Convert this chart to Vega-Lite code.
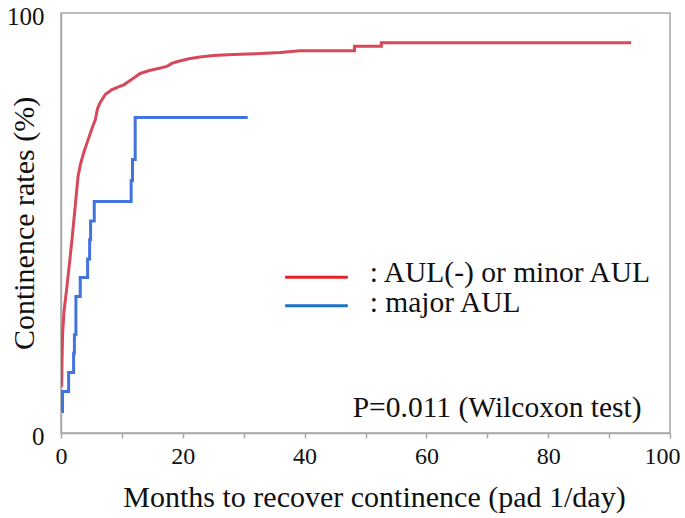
{
  "$schema": "https://vega.github.io/schema/vega-lite/v6.json",
  "width": 609,
  "height": 420,
  "autosize": {"type": "none"},
  "padding": {"left": 61, "top": 13, "right": 15, "bottom": 85},
  "background": "white",
  "config": {
    "font": "Liberation Serif",
    "view": {"stroke": "#a8a8a8", "strokeWidth": 1.5},
    "axis": {"grid": false, "domainColor": "#a8a8a8", "domainWidth": 1.5, "tickColor": "#a8a8a8", "tickWidth": 1.5, "labelFont": "Liberation Serif", "titleFont": "Liberation Serif", "labelColor": "#111", "titleColor": "#111", "titleFontWeight": "normal"}
  },
  "datasets": {
    "curves": [
      {"i": 1, "m": 0.1, "r": 11},
      {"i": 2, "m": 0.15, "r": 16},
      {"i": 3, "m": 0.27, "r": 23.8},
      {"i": 4, "m": 0.5, "r": 29},
      {"i": 5, "m": 0.98, "r": 34.9},
      {"i": 6, "m": 1.4, "r": 40.5},
      {"i": 7, "m": 1.8, "r": 46},
      {"i": 8, "m": 2.3, "r": 53.5},
      {"i": 9, "m": 2.79, "r": 61},
      {"i": 10, "m": 3.2, "r": 64},
      {"i": 11, "m": 3.7, "r": 66.6},
      {"i": 12, "m": 4.3, "r": 69.2},
      {"i": 13, "m": 4.8, "r": 71.3},
      {"i": 14, "m": 5.2, "r": 73},
      {"i": 15, "m": 5.62, "r": 74.5},
      {"i": 16, "m": 6.0, "r": 77.3},
      {"i": 17, "m": 6.4, "r": 78.6},
      {"i": 18, "m": 7.26, "r": 80.6},
      {"i": 19, "m": 8.3, "r": 81.7},
      {"i": 20, "m": 9.44, "r": 82.4},
      {"i": 21, "m": 10.3, "r": 82.9},
      {"i": 22, "m": 10.8, "r": 83.4},
      {"i": 23, "m": 12.0, "r": 84.6},
      {"i": 24, "m": 13.0, "r": 85.6},
      {"i": 25, "m": 14.5, "r": 86.3},
      {"i": 26, "m": 16.0, "r": 86.8},
      {"i": 27, "m": 17.4, "r": 87.3},
      {"i": 28, "m": 18.2, "r": 88},
      {"i": 29, "m": 19.0, "r": 88.4},
      {"i": 30, "m": 21, "r": 89.1},
      {"i": 31, "m": 22.8, "r": 89.5},
      {"i": 32, "m": 25, "r": 89.9},
      {"i": 33, "m": 28.3, "r": 90.1},
      {"i": 34, "m": 32, "r": 90.3},
      {"i": 35, "m": 36, "r": 90.6},
      {"i": 36, "m": 39.2, "r": 91.0},
      {"i": 37, "m": 48.2, "r": 91.0},
      {"i": 38, "m": 48.2, "r": 92.1},
      {"i": 39, "m": 52.6, "r": 92.1},
      {"i": 40, "m": 52.6, "r": 92.9},
      {"i": 41, "m": 93.6, "r": 92.9}
    ],
    "blue": [
      {"m": 0.15, "r": 5.1},
      {"m": 0.25, "r": 9.9},
      {"m": 1.25, "r": 14.4},
      {"m": 2.07, "r": 19.0},
      {"m": 2.2, "r": 23.4},
      {"m": 2.45, "r": 32.5},
      {"m": 3.16, "r": 37.0},
      {"m": 4.37, "r": 41.4},
      {"m": 4.7, "r": 46.0},
      {"m": 4.86, "r": 50.5},
      {"m": 5.46, "r": 55.1},
      {"m": 11.52, "r": 60.1},
      {"m": 11.74, "r": 65.1},
      {"m": 12.18, "r": 75.1},
      {"m": 30.66, "r": 75.1}
    ],
    "legend": [
      {"label": ": AUL(-) or minor AUL", "x1": 36.8, "x2": 47.1, "ly": 37.1, "tx": 50.7, "ty": 38.2, "c": "#e3232c"},
      {"label": ": major AUL", "x1": 36.8, "x2": 47.1, "ly": 30.3, "tx": 50.7, "ty": 31.0, "c": "#1c74c9"}
    ],
    "note": [
      {"label": "P=0.011 (Wilcoxon test)", "tx": 47.9, "ty": 6.0}
    ]
  },
  "layer": [
    {
      "data": {"name": "curves"},
      "mark": {"type": "line", "color": "#d6495b", "strokeWidth": 3, "clip": true},
      "encoding": {
        "x": {"field": "m", "type": "quantitative", "scale": {"domain": [0, 100], "nice": false},
          "axis": {"values": [0, 10, 20, 30, 40, 50, 60, 70, 80, 90, 100], "labelExpr": "datum.value % 20 == 0 ? datum.label : ''", "labelAlign": {"expr": "datum.value == 100 ? 'right' : 'center'"}, "labelOffset": {"expr": "datum.value == 100 ? 10 : 0"}, "tickSize": 5, "labelFontSize": 24, "labelPadding": 18, "labelBaseline": "middle", "labelFlush": false, "title": "Months to recover continence (pad 1/day)", "titleFontSize": 30, "titleBaseline": "middle", "titleAlign": "center", "titleX": 313, "titleY": 64}},
        "y": {"field": "r", "type": "quantitative", "scale": {"domain": [0, 100], "nice": false},
          "axis": {"values": [0, 100], "ticks": false, "labelFontSize": 25, "labelPadding": 17, "labelBaseline": "middle", "labelOffset": 3, "labelFlush": false, "title": "Continence rates (%)", "titleFontSize": 30, "titleBaseline": "middle", "titleX": -37, "titleY": 210, "titleAngle": -90}},
        "order": {"field": "i", "type": "quantitative"}
      }
    },
    {
      "data": {"name": "blue"},
      "mark": {"type": "line", "color": "#4273df", "strokeWidth": 3, "interpolate": "step-after"},
      "encoding": {
        "x": {"field": "m", "type": "quantitative"},
        "y": {"field": "r", "type": "quantitative"}
      }
    },
    {
      "data": {"name": "legend"},
      "mark": {"type": "rule", "strokeWidth": 3},
      "encoding": {
        "x": {"field": "x1", "type": "quantitative"},
        "x2": {"field": "x2"},
        "y": {"field": "ly", "type": "quantitative"},
        "color": {"field": "c", "type": "nominal", "scale": null}
      }
    },
    {
      "data": {"name": "legend"},
      "mark": {"type": "text", "align": "left", "baseline": "middle", "fontSize": 29.5, "font": "Liberation Serif", "color": "#111"},
      "encoding": {
        "x": {"field": "tx", "type": "quantitative"},
        "y": {"field": "ty", "type": "quantitative"},
        "text": {"field": "label"}
      }
    },
    {
      "data": {"name": "note"},
      "mark": {"type": "text", "align": "left", "baseline": "middle", "fontSize": 29.5, "font": "Liberation Serif", "color": "#111"},
      "encoding": {
        "x": {"field": "tx", "type": "quantitative"},
        "y": {"field": "ty", "type": "quantitative"},
        "text": {"field": "label"}
      }
    }
  ]
}
